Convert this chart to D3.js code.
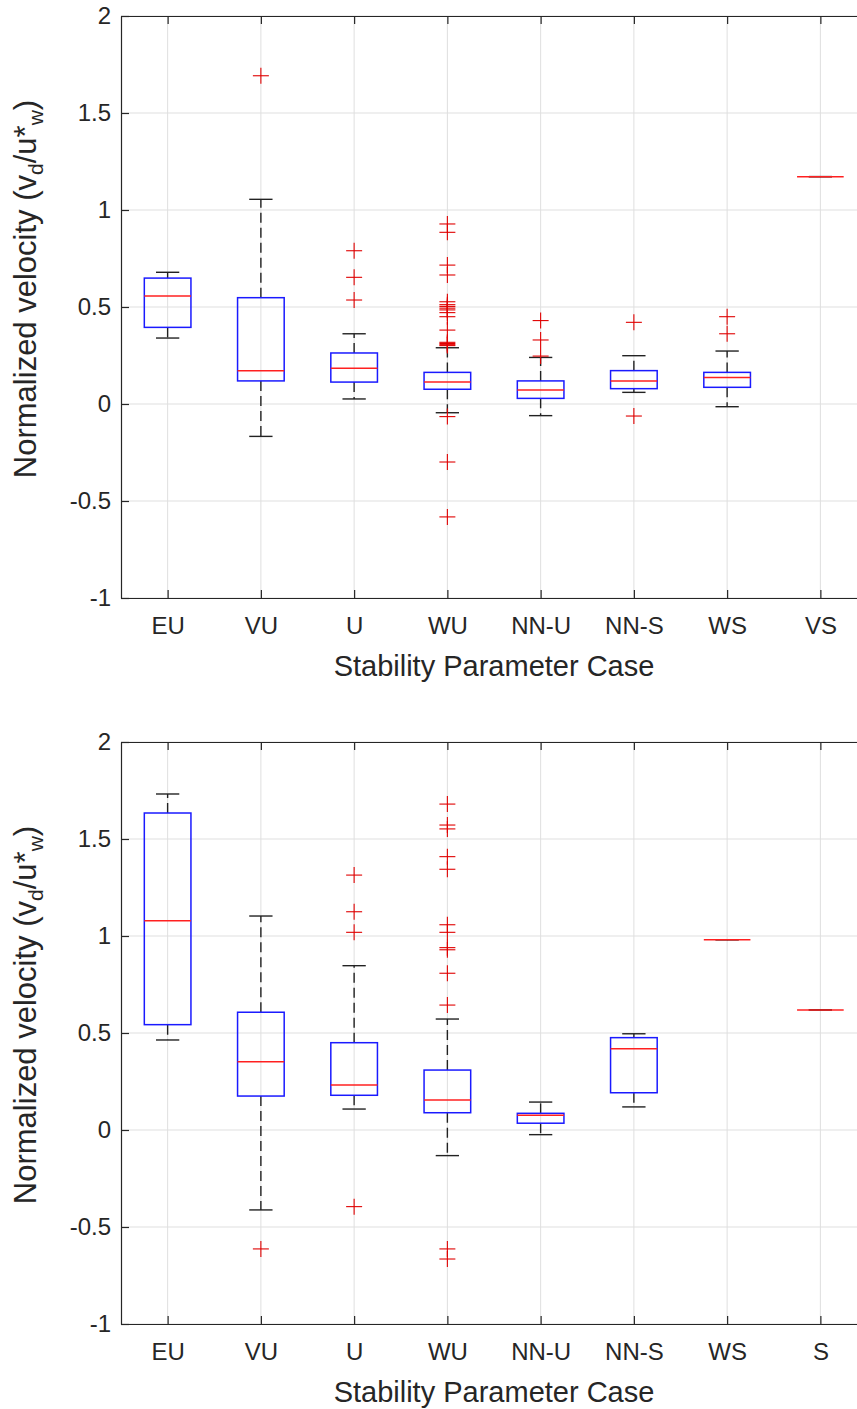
<!DOCTYPE html>
<html>
<head>
<meta charset="utf-8">
<script src="https://cdn.jsdelivr.net/npm/d3@7"></script>
<style>
  html, body { margin: 0; padding: 0; background: #fff; overflow: hidden; }
  svg { display: block; overflow: hidden; }
  text { font-family: "Liberation Sans", Arial, Helvetica, sans-serif; fill: #262626; }
</style>
</head>
<body>
<svg id="chart" width="857" height="1409"></svg>
<script>
// ---------------- DATA ----------------
const categoriesTop = ["EU", "VU", "U", "WU", "NN-U", "NN-S", "WS", "VS"];
const categoriesBottom = ["EU", "VU", "U", "WU", "NN-U", "NN-S", "WS", "S"];

// Top panel box statistics
const topWhiskerLow  = [0.340, -0.167, 0.026, -0.045, -0.060, 0.060, -0.014, 1.172];
const topQ1          = [0.395,  0.119, 0.113,  0.076,  0.029, 0.079,  0.086, 1.172];
const topMedian      = [0.557,  0.172, 0.184,  0.113,  0.072, 0.119,  0.137, 1.172];
const topQ3          = [0.649,  0.548, 0.263,  0.163,  0.119, 0.172,  0.163, 1.172];
const topWhiskerHigh = [0.679,  1.055, 0.362,  0.290,  0.240, 0.249,  0.273, 1.172];
const topOutliers = [
  [],
  [1.692],
  [0.790, 0.653, 0.536],
  [0.928, 0.885, 0.716, 0.665, 0.527, 0.512, 0.503, 0.494, 0.485, 0.471, 0.450, 0.381, 0.318, 0.312, 0.306, 0.301, -0.065, -0.299, -0.582],
  [0.430, 0.330, 0.247],
  [0.421, -0.062],
  [0.450, 0.362],
  []
];

// Bottom panel box statistics
const botWhiskerLow  = [0.464, -0.412, 0.108, -0.132, -0.024, 0.119, 0.981, 0.619];
const botQ1          = [0.543,  0.175, 0.179,  0.089,  0.035, 0.192, 0.981, 0.619];
const botMedian      = [1.079,  0.352, 0.232,  0.155,  0.076, 0.419, 0.981, 0.619];
const botQ3          = [1.634,  0.607, 0.450,  0.309,  0.086, 0.476, 0.981, 0.619];
const botWhiskerHigh = [1.732,  1.103, 0.847,  0.572,  0.144, 0.496, 0.981, 0.619];
const botOutliers = [
  [],
  [-0.613],
  [1.314, 1.125, 1.019, -0.395],
  [1.680, 1.572, 1.552, 1.409, 1.344, 1.058, 1.019, 0.940, 0.929, 0.808, 0.644, -0.613, -0.665],
  [],
  [],
  [],
  []
];

const yTickValues = [-1, -0.5, 0, 0.5, 1, 1.5, 2];
const yTickLabels = ["-1", "-0.5", "0", "0.5", "1", "1.5", "2"];
const xAxisTitle = "Stability Parameter Case";

// ---------------- DRAWING ----------------
const svg = d3.select("#chart");

function buildStats(cats, lo, q1, med, q3, hi, outs) {
  return cats.map((c, i) => ({
    cat: c, pos: i + 1, lo: lo[i], q1: q1[i], med: med[i], q3: q3[i], hi: hi[i], outliers: outs[i]
  }));
}

function drawPanel(top, bottom, cats, stats) {
  const left = 121, right = 867;
  const x = d3.scaleLinear().domain([0.5, cats.length + 0.5]).range([left, right]);
  const y = d3.scaleLinear().domain([-1, 2]).range([bottom, top]);
  const g = svg.append("g");
  const positions = cats.map((c, i) => i + 1);

  // grid
  g.append("g").selectAll("line.vg").data(positions).join("line")
    .attr("x1", d => x(d)).attr("x2", d => x(d))
    .attr("y1", top).attr("y2", bottom)
    .attr("stroke", "#dfdfdf").attr("stroke-width", 1);
  g.append("g").selectAll("line.hg").data(yTickValues).join("line")
    .attr("x1", left).attr("x2", right)
    .attr("y1", d => y(d)).attr("y2", d => y(d))
    .attr("stroke", "#dfdfdf").attr("stroke-width", 1);

  // axes with inward ticks
  const tickLen = 8;
  const yAxisL = d3.axisLeft(y).tickValues(yTickValues)
    .tickFormat((d, i) => yTickLabels[i]).tickSizeInner(-tickLen).tickSizeOuter(0).tickPadding(10);
  const gy = g.append("g").attr("transform", `translate(${left},0)`).call(yAxisL);

  const xAxisB = d3.axisBottom(x).tickValues(positions)
    .tickFormat((d, i) => cats[i]).tickSizeInner(-tickLen).tickSizeOuter(0).tickPadding(19);
  const gx = g.append("g").attr("transform", `translate(0,${bottom})`).call(xAxisB);
  const xAxisT = d3.axisTop(x).tickValues(positions).tickFormat("").tickSizeInner(-tickLen).tickSizeOuter(0);
  const gxt = g.append("g").attr("transform", `translate(0,${top})`).call(xAxisT);

  [gy, gx, gxt].forEach(a => {
    a.select(".domain").attr("stroke", "#262626").attr("stroke-width", 1.2);
    a.selectAll(".tick line").attr("stroke", "#262626").attr("stroke-width", 1.2);
    a.selectAll(".tick text").attr("fill", "#262626")
      .style("font-family", '"Liberation Sans", Arial, sans-serif').style("font-size", "24px");
  });

  const bw = x(1.25) - x(1); // half of box width (box width = 0.5)
  const cw = x(1.125) - x(1); // half of cap width (cap width = 0.25)

  const boxes = g.append("g").selectAll("g.box").data(stats).join("g");

  // whiskers (dashed)
  boxes.append("line")
    .attr("x1", d => x(d.pos)).attr("x2", d => x(d.pos))
    .attr("y1", d => y(d.q3)).attr("y2", d => y(d.hi))
    .attr("stroke", "#222").attr("stroke-width", 1.4).attr("stroke-dasharray", "10,5");
  boxes.append("line")
    .attr("x1", d => x(d.pos)).attr("x2", d => x(d.pos))
    .attr("y1", d => y(d.q1)).attr("y2", d => y(d.lo))
    .attr("stroke", "#222").attr("stroke-width", 1.4).attr("stroke-dasharray", "10,5");
  // caps
  boxes.append("line")
    .attr("x1", d => x(d.pos) - cw).attr("x2", d => x(d.pos) + cw)
    .attr("y1", d => y(d.hi)).attr("y2", d => y(d.hi))
    .attr("stroke", "#222").attr("stroke-width", 1.4);
  boxes.append("line")
    .attr("x1", d => x(d.pos) - cw).attr("x2", d => x(d.pos) + cw)
    .attr("y1", d => y(d.lo)).attr("y2", d => y(d.lo))
    .attr("stroke", "#222").attr("stroke-width", 1.4);
  // boxes
  boxes.append("rect")
    .attr("x", d => x(d.pos) - bw).attr("width", 2 * bw)
    .attr("y", d => y(d.q3)).attr("height", d => Math.max(0, y(d.q1) - y(d.q3)))
    .attr("fill", "none").attr("stroke", "#1a1aff").attr("stroke-width", 1.5);
  // medians
  boxes.append("line")
    .attr("x1", d => x(d.pos) - bw).attr("x2", d => x(d.pos) + bw)
    .attr("y1", d => y(d.med)).attr("y2", d => y(d.med))
    .attr("stroke", "#ff2020").attr("stroke-width", 1.5);

  // outliers as '+'
  const outData = [];
  stats.forEach(s => s.outliers.forEach(v => outData.push({ pos: s.pos, v })));
  const ps = 8;
  const og = g.append("g").selectAll("g.out").data(outData).join("g")
    .attr("transform", d => `translate(${x(d.pos)},${y(d.v)})`);
  og.append("line").attr("x1", -ps).attr("x2", ps).attr("y1", 0).attr("y2", 0)
    .attr("stroke", "#e00000").attr("stroke-width", 1.1);
  og.append("line").attr("x1", 0).attr("x2", 0).attr("y1", -ps).attr("y2", ps)
    .attr("stroke", "#e00000").attr("stroke-width", 1.1);

  // axis titles
  g.append("text")
    .attr("x", (left + right) / 2).attr("y", bottom + 78)
    .attr("text-anchor", "middle").style("font-size", "29px")
    .text(xAxisTitle);

  const yl = g.append("text")
    .attr("transform", `translate(36,${(top + bottom) / 2 - 18}) rotate(-90)`)
    .attr("text-anchor", "middle").style("font-size", "31px");
  yl.append("tspan").text("Normalized velocity (v");
  yl.append("tspan").attr("dy", 7).style("font-size", "21px").text("d");
  yl.append("tspan").attr("dy", -7).text("/u*");
  yl.append("tspan").attr("dy", 7).style("font-size", "21px").text("w");
  yl.append("tspan").attr("dy", -7).text(")");
}

drawPanel(16, 598, categoriesTop,
  buildStats(categoriesTop, topWhiskerLow, topQ1, topMedian, topQ3, topWhiskerHigh, topOutliers));
drawPanel(742, 1324, categoriesBottom,
  buildStats(categoriesBottom, botWhiskerLow, botQ1, botMedian, botQ3, botWhiskerHigh, botOutliers));
</script>
</body>
</html>
